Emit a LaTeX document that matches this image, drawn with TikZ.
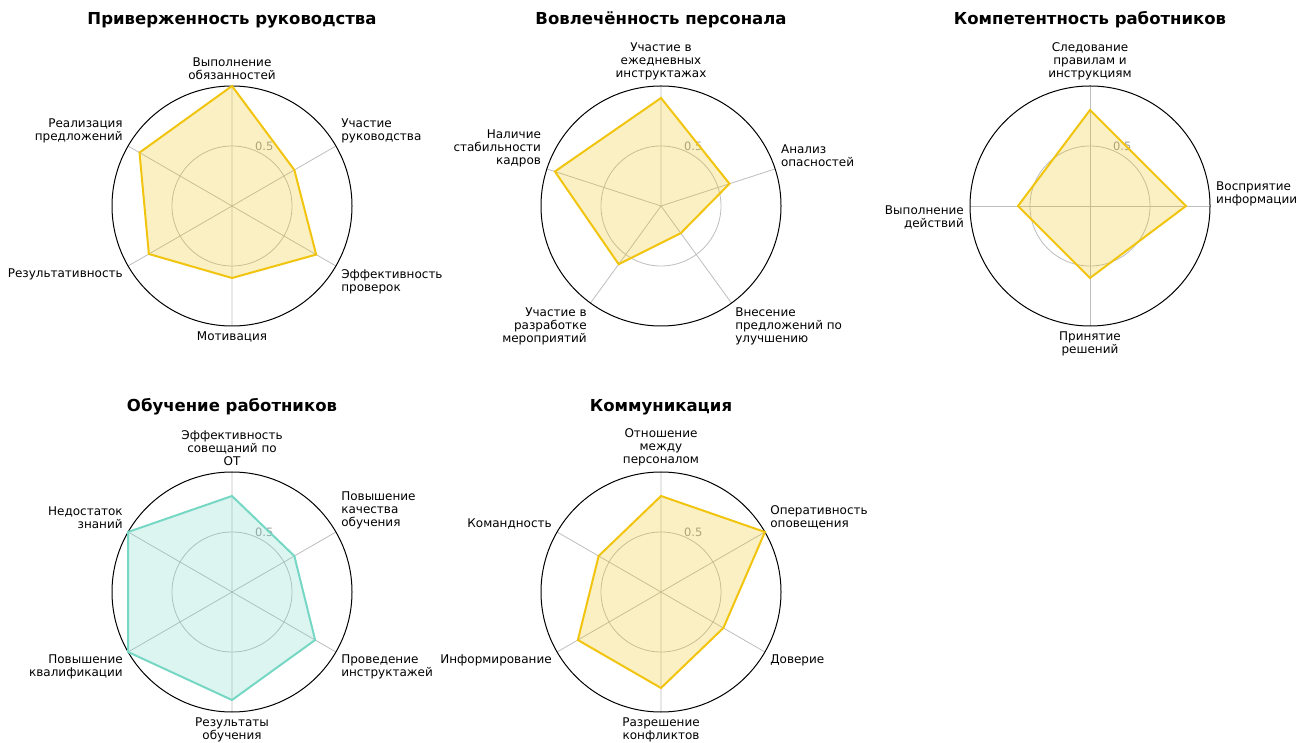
\documentclass[tikz,border=0pt]{standalone}
\usepackage{fontspec}
\setmainfont{DejaVu Sans}
\usepackage{tikz}
\usetikzlibrary{positioning}
\definecolor{radaryellow}{HTML}{F1C40F}
\definecolor{radarteal}{HTML}{76D7C4}

\begin{document}
\begin{tikzpicture}[
  x=1pt, y=1pt,
  spine/.style={draw=black, line width=1pt},
  gridline/.style={draw=gray!52, line width=0.8pt},
  spoke/.style={draw=gray!52, line width=0.8pt},
  yarea/.style={draw=radaryellow, fill=radaryellow, fill opacity=0.25, line width=2pt, line join=miter},
  tarea/.style={draw=radarteal, fill=radarteal, fill opacity=0.25, line width=2pt, line join=miter},
  ttl/.style={font=\fontsize{16.5}{19}\selectfont\bfseries, inner sep=0pt, anchor=base},
  lbl/.style={font=\fontsize{12}{13}\selectfont, inner sep=0pt},
  tick/.style={font=\fontsize{11.5}{13}\selectfont, text=gray!80, inner sep=0pt, anchor=south west}
]
\useasboundingbox (0,0) rectangle (1312,742);

% chart centres
\coordinate (c_ruk) at (232,536);
\coordinate (c_vov) at (661,536);
\coordinate (c_kom) at (1090,536);
\coordinate (c_obu) at (232,150);
\coordinate (c_kmm) at (661,150);

% titles
\node[ttl] (t_ruk) at (232,717) {Приверженность руководства};
\node[ttl] (t_vov) at (661,717) {Вовлечённость персонала};
\node[ttl] (t_kom) at (1090,717) {Компетентность работников};
\node[ttl] (t_obu) at (232,330.5) {Обучение работников};
\node[ttl] (t_kmm) at (661,330.5) {Коммуникация};

% Приверженность руководства
\begin{scope}[shift={(c_ruk)}, x=120pt, y=120pt]
\draw[spoke] (0,0) -- (90:1) (0,0) -- (30:1) (0,0) -- (-30:1) (0,0) -- (-90:1) (0,0) -- (210:1) (0,0) -- (150:1);
\draw[gridline] (0,0) circle (0.5);
\draw[spine] (0,0) circle (1);
\node[tick] (ruk_t) at (67.5:0.5) {0.5};
\filldraw[yarea] (90:1) -- (30:0.6) -- (-30:0.81) -- (-90:0.6) -- (210:0.8) -- (150:0.89) -- cycle;
\node[lbl, anchor=south, align=center] (ruk_1) at (90:1.05) {Выполнение\\обязанностей};
\node[lbl, anchor=south west, align=left] (ruk_2) at (30:1.05) {Участие\\руководства};
\node[lbl, anchor=north west, align=left] (ruk_3) at (-30:1.05) {Эффективность\\проверок};
\node[lbl, anchor=north, align=center] (ruk_4) at (-90:1.05) {Мотивация};
\node[lbl, anchor=north east, align=right] (ruk_5) at (210:1.05) {Результативность};
\node[lbl, anchor=south east, align=right] (ruk_6) at (150:1.05) {Реализация\\предложений};
\end{scope}

% Вовлечённость персонала
\begin{scope}[shift={(c_vov)}, x=120pt, y=120pt]
\draw[spoke] (0,0) -- (90:1) (0,0) -- (18:1) (0,0) -- (-54:1) (0,0) -- (234:1) (0,0) -- (162:1);
\draw[gridline] (0,0) circle (0.5);
\draw[spine] (0,0) circle (1);
\node[tick] (vov_t) at (67.5:0.5) {0.5};
\filldraw[yarea] (90:0.9) -- (18:0.6) -- (-54:0.28) -- (234:0.6) -- (162:0.93) -- cycle;
\node[lbl, anchor=south, align=center] (vov_1) at (90:1.05) {Участие в\\ежедневных\\инструктажах};
\node[lbl, anchor=south west, align=left] (vov_2) at (18:1.05) {Анализ\\опасностей};
\node[lbl, anchor=north west, align=left] (vov_3) at (-54:1.05) {Внесение\\предложений по\\улучшению};
\node[lbl, anchor=north east, align=right] (vov_4) at (234:1.05) {Участие в\\разработке\\мероприятий};
\node[lbl, anchor=south east, align=right] (vov_5) at (162:1.05) {Наличие\\стабильности\\кадров};
\end{scope}

% Компетентность работников
\begin{scope}[shift={(c_kom)}, x=120pt, y=120pt]
\draw[spoke] (0,0) -- (90:1) (0,0) -- (0:1) (0,0) -- (-90:1) (0,0) -- (180:1);
\draw[gridline] (0,0) circle (0.5);
\draw[spine] (0,0) circle (1);
\node[tick] (kom_t) at (67.5:0.5) {0.5};
\filldraw[yarea] (90:0.8) -- (0:0.8) -- (-90:0.6) -- (180:0.6) -- cycle;
\node[lbl, anchor=south, align=center] (kom_1) at (90:1.05) {Следование\\правилам и\\инструкциям};
\node[lbl, anchor=south west, align=left] (kom_2) at (0:1.05) {Восприятие\\информации};
\node[lbl, anchor=north, align=center] (kom_3) at (-90:1.05) {Принятие\\решений};
\node[lbl, anchor=north east, align=right] (kom_4) at (180:1.05) {Выполнение\\действий};
\end{scope}

% Обучение работников
\begin{scope}[shift={(c_obu)}, x=120pt, y=120pt]
\draw[spoke] (0,0) -- (90:1) (0,0) -- (30:1) (0,0) -- (-30:1) (0,0) -- (-90:1) (0,0) -- (210:1) (0,0) -- (150:1);
\draw[gridline] (0,0) circle (0.5);
\draw[spine] (0,0) circle (1);
\node[tick] (obu_t) at (67.5:0.5) {0.5};
\filldraw[tarea] (90:0.8) -- (30:0.6) -- (-30:0.8) -- (-90:0.9) -- (210:1) -- (150:1) -- cycle;
\node[lbl, anchor=south, align=center] (obu_1) at (90:1.05) {Эффективность\\совещаний по\\ОТ};
\node[lbl, anchor=south west, align=left] (obu_2) at (30:1.05) {Повышение\\качества\\обучения};
\node[lbl, anchor=north west, align=left] (obu_3) at (-30:1.05) {Проведение\\инструктажей};
\node[lbl, anchor=north, align=center] (obu_4) at (-90:1.05) {Результаты\\обучения};
\node[lbl, anchor=north east, align=right] (obu_5) at (210:1.05) {Повышение\\квалификации};
\node[lbl, anchor=south east, align=right] (obu_6) at (150:1.05) {Недостаток\\знаний};
\end{scope}

% Коммуникация
\begin{scope}[shift={(c_kmm)}, x=120pt, y=120pt]
\draw[spoke] (0,0) -- (90:1) (0,0) -- (30:1) (0,0) -- (-30:1) (0,0) -- (-90:1) (0,0) -- (210:1) (0,0) -- (150:1);
\draw[gridline] (0,0) circle (0.5);
\draw[spine] (0,0) circle (1);
\node[tick] (kmm_t) at (67.5:0.5) {0.5};
\filldraw[yarea] (90:0.8) -- (30:1) -- (-30:0.6) -- (-90:0.8) -- (210:0.8) -- (150:0.6) -- cycle;
\node[lbl, anchor=south, align=center] (kmm_1) at (90:1.05) {Отношение\\между\\персоналом};
\node[lbl, anchor=south west, align=left] (kmm_2) at (30:1.05) {Оперативность\\оповещения};
\node[lbl, anchor=north west, align=left] (kmm_3) at (-30:1.05) {Доверие};
\node[lbl, anchor=north, align=center] (kmm_4) at (-90:1.05) {Разрешение\\конфликтов};
\node[lbl, anchor=north east, align=right] (kmm_5) at (210:1.05) {Информирование};
\node[lbl, anchor=south east, align=right] (kmm_6) at (150:1.05) {Командность};
\end{scope}
\end{tikzpicture}
\end{document}
